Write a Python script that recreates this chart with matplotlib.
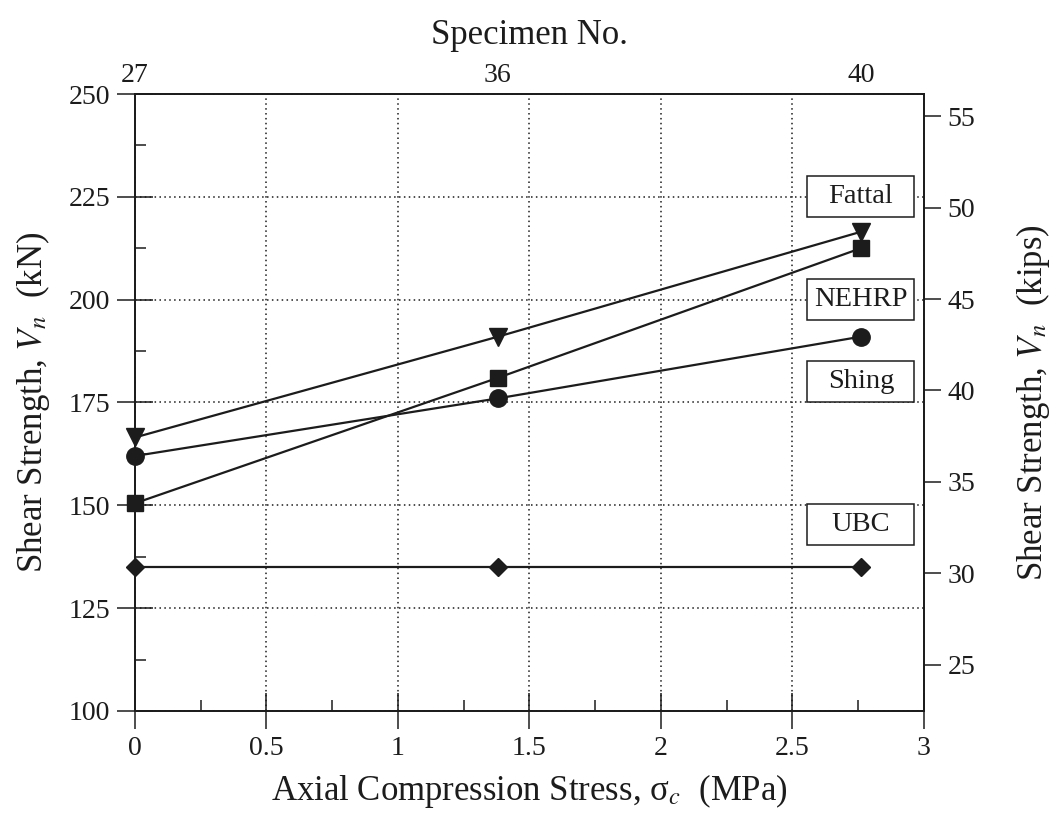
import matplotlib
matplotlib.use("Agg")
import matplotlib.pyplot as plt
from matplotlib.ticker import MultipleLocator, FuncFormatter
from matplotlib.patches import Rectangle

plt.rcParams['font.family'] = ['Liberation Serif', 'DejaVu Serif']
plt.rcParams['mathtext.fontset'] = 'stix'

# data
stress = [0, 1.38, 2.76]          # MPa
specimens = ['27', '36', '40']
fattal = [166.5, 191, 216.5]      # kN
nehrp = [150.5, 181, 212.5]
shing = [162, 176, 191]
ubc = [135, 135, 135]
box_names = ['Fattal', 'NEHRP', 'Shing', 'UBC']
box_levels = [225, 200, 180, 145.3]

KN_PER_KIP = 4.448
ink = '#1c1c1c'

fig = plt.figure(figsize=(10.56, 8.16), dpi=100)
ax = fig.add_axes([0.1278, 0.1287, 0.7472, 0.7561])

ax.plot(stress, fattal, color=ink, lw=1.6, marker='v', ms=12.5, clip_on=False, zorder=3)
ax.plot(stress, nehrp, color=ink, lw=1.6, marker='s', ms=12, clip_on=False, zorder=3)
ax.plot(stress, shing, color=ink, lw=1.6, marker='o', ms=12.5, clip_on=False, zorder=3)
ax.plot(stress, ubc, color=ink, lw=1.6, marker='D', ms=9, clip_on=False, zorder=3)

# method name boxes
bw, bh = 0.407, 10
for name, lvl in zip(box_names, box_levels):
    ax.add_patch(Rectangle((stress[-1] - bw / 2, lvl - bh / 2), bw, bh,
                           facecolor='white', edgecolor=ink, lw=1.1, zorder=4))
    ax.text(stress[-1], lvl, name, ha='center', va='center', fontsize=20.5,
            color=ink, zorder=5)

ax.set_xlim(0, 3.0)
ax.set_ylim(100, 250)
ax.xaxis.set_major_locator(MultipleLocator(0.5))
ax.xaxis.set_minor_locator(MultipleLocator(0.25))
ax.yaxis.set_major_locator(MultipleLocator(25))
ax.yaxis.set_minor_locator(MultipleLocator(12.5))
ax.xaxis.set_major_formatter(FuncFormatter(lambda v, p: '%g' % v))
ax.grid(True, which='major', ls=(0, (1, 2.2)), color=ink, lw=1.1)
ax.tick_params(which='major', direction='inout', length=26, width=1.1,
               labelsize=20, pad=5, colors=ink, top=False, right=False)
ax.tick_params(which='minor', direction='in', length=8, width=1.1,
               colors=ink, top=False, right=False)
for s in ax.spines.values():
    s.set_linewidth(1.1)
    s.set_color(ink)

ax.set_xlabel('Axial Compression Stress, σ$_c$  (MPa)', fontsize=25, labelpad=8, color=ink)
ax.set_ylabel('Shear Strength, $V_n$  (kN)', fontsize=25, labelpad=12, color=ink)

# right axis in kips
ax2 = ax.twinx()
ax2.set_ylim(100 / KN_PER_KIP, 250 / KN_PER_KIP)
ax2.yaxis.set_major_locator(MultipleLocator(5))
ax2.tick_params(which='major', direction='out', length=12, width=1.1,
                labelsize=20, pad=5, colors=ink)
ax2.set_ylabel('Shear Strength, $V_n$  (kips)', fontsize=25, labelpad=28, color=ink)
for s in ax2.spines.values():
    s.set_linewidth(1.1)
    s.set_color(ink)

# top axis with specimen numbers
ax3 = ax.twiny()
ax3.set_xlim(ax.get_xlim())
ax3.set_xticks(stress)
ax3.set_xticklabels(specimens)
ax3.tick_params(axis='x', length=0, labelsize=20, pad=4, colors=ink)
ax3.set_xlabel('Specimen No.', fontsize=25, labelpad=14, color=ink)
for s in ax3.spines.values():
    s.set_linewidth(1.1)
    s.set_color(ink)

fig.savefig('out.png', dpi=100, facecolor='white')
